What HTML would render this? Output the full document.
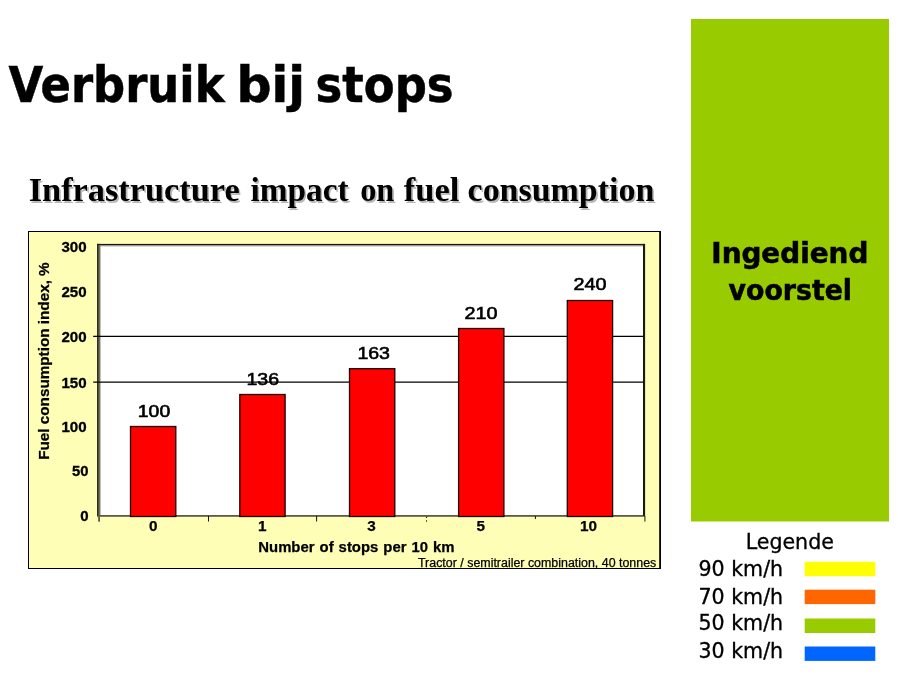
<!DOCTYPE html>
<html><head><meta charset="utf-8"><title>Verbruik bij stops</title>
<style>
html,body{margin:0;padding:0;background:#fff;}
body{width:898px;height:676px;overflow:hidden;position:relative;}
svg{position:absolute;left:0;top:0;display:block;}
.tah{font-family:"DejaVu Sans Condensed","DejaVu Sans","Liberation Sans",sans-serif;}
.ari{font-family:"Liberation Sans",sans-serif;}
.tim{font-family:"Liberation Serif",serif;}
</style></head><body>
<svg width="898" height="676" viewBox="0 0 898 676">
<rect width="898" height="676" fill="#ffffff"/>
<!-- title -->
<g class="tah" font-size="49" font-weight="bold" fill="#000" stroke="#000" stroke-width="0.5">
<text x="8.5" y="102" textLength="216" lengthAdjust="spacingAndGlyphs">Verbruik</text>
<text x="236.5" y="102" textLength="68.5" lengthAdjust="spacingAndGlyphs">bij</text>
<text x="315.6" y="102" textLength="138" lengthAdjust="spacingAndGlyphs">stops</text>
</g>
<!-- subtitle -->
<g class="tim" font-size="33.6" font-weight="bold" fill="#b8b8b8">
<text x="30.3" y="202.5" textLength="211" lengthAdjust="spacingAndGlyphs">Infrastructure</text>
<text x="252.1" y="202.5" textLength="98" lengthAdjust="spacingAndGlyphs">impact</text>
<text x="361.8" y="202.5" textLength="34" lengthAdjust="spacingAndGlyphs">on</text>
<text x="405.4" y="202.5" textLength="55.5" lengthAdjust="spacingAndGlyphs">fuel</text>
<text x="469.2" y="202.5" textLength="186.7" lengthAdjust="spacingAndGlyphs">consumption</text>
</g>
<g class="tim" font-size="33.6" font-weight="bold" fill="#000">
<text x="28.7" y="201.1" textLength="211" lengthAdjust="spacingAndGlyphs">Infrastructure</text>
<text x="250.5" y="201.1" textLength="98" lengthAdjust="spacingAndGlyphs">impact</text>
<text x="360.2" y="201.1" textLength="34" lengthAdjust="spacingAndGlyphs">on</text>
<text x="403.8" y="201.1" textLength="55.5" lengthAdjust="spacingAndGlyphs">fuel</text>
<text x="467.6" y="201.1" textLength="186.7" lengthAdjust="spacingAndGlyphs">consumption</text>
</g>
<!-- chart -->
<rect x="28" y="231" width="633" height="338" fill="#000"/>
<rect x="29" y="232" width="630.2" height="336" fill="#fffeb6"/>
<rect x="99" y="245" width="545" height="271" fill="#fff"/>
<!-- plot border -->
<rect x="97.1" y="243.9" width="1.3" height="272.6" fill="#1a1a10"/>
<rect x="98.4" y="243.9" width="1.3" height="277.8" fill="#1a1a10"/>
<rect x="99.7" y="245" width="0.9" height="270.5" fill="#999"/>
<rect x="97.1" y="243.9" width="547.9" height="1.2" fill="#1a1a10"/>
<rect x="99.7" y="245.1" width="543.3" height="1.2" fill="#8c8c8c"/>
<rect x="643" y="243.9" width="2.1" height="272.6" fill="#1a1a10"/>
<rect x="644.4" y="516" width="1" height="5.6" fill="#1a1a10"/>
<rect x="99.7" y="515" width="543.3" height="1.8" fill="#5c5c48"/>
<!-- gridlines -->
<line x1="93.2" y1="336.4" x2="644" y2="336.4" stroke="#000" stroke-width="1.15"/>
<line x1="93.2" y1="382.1" x2="644" y2="382.1" stroke="#000" stroke-width="1.25"/>
<!-- ticks -->
<g stroke="#111" stroke-width="1">
<line x1="208.5" y1="516" x2="208.5" y2="521.5"/>
<line x1="316.6" y1="516" x2="316.6" y2="521.5"/>
<line x1="426.6" y1="516.5" x2="426.6" y2="518" />
<line x1="426.6" y1="520.3" x2="426.6" y2="521.7" />
<line x1="535.4" y1="516" x2="535.4" y2="519"/>
</g>
<!-- bars -->
<g fill="#ff0000" stroke="#180000" stroke-width="1.3">
<rect x="130.5" y="426.5" width="45.3" height="90"/>
<rect x="239.8" y="394.5" width="45.3" height="122"/>
<rect x="349.5" y="368.7" width="45.3" height="147.8"/>
<rect x="458.6" y="328.5" width="45.3" height="188"/>
<rect x="567.3" y="300.5" width="45.3" height="216"/>
</g>
<!-- data labels -->
<g class="ari" font-size="16.7" fill="#000" stroke="#000" stroke-width="0.6" text-anchor="middle">
<text x="154" y="416.7" textLength="32.3" lengthAdjust="spacingAndGlyphs">100</text>
<text x="262.8" y="384.7" textLength="32.6" lengthAdjust="spacingAndGlyphs">136</text>
<text x="373.7" y="359" textLength="32.6" lengthAdjust="spacingAndGlyphs">163</text>
<text x="481" y="318.5" textLength="33" lengthAdjust="spacingAndGlyphs">210</text>
<text x="590" y="289.5" textLength="33" lengthAdjust="spacingAndGlyphs">240</text>
</g>
<!-- y labels -->
<g class="ari" font-size="15" font-weight="bold" fill="#000" stroke="#000" stroke-width="0.3" text-anchor="end">
<text x="86.6" y="251.6" textLength="25.2" lengthAdjust="spacingAndGlyphs">300</text>
<text x="86.6" y="296.5" textLength="25.2" lengthAdjust="spacingAndGlyphs">250</text>
<text x="86.6" y="341.6" textLength="25.2" lengthAdjust="spacingAndGlyphs">200</text>
<text x="86.6" y="387.6" textLength="25.2" lengthAdjust="spacingAndGlyphs">150</text>
<text x="86.6" y="431.5" textLength="25.2" lengthAdjust="spacingAndGlyphs">100</text>
<text x="88.5" y="476.2" textLength="16.5" lengthAdjust="spacingAndGlyphs">50</text>
<text x="88.5" y="520.6">0</text>
</g>
<!-- x labels -->
<g class="ari" font-size="15.3" font-weight="bold" fill="#000" stroke="#000" stroke-width="0.25" text-anchor="middle">
<text x="153.3" y="531.4">0</text>
<text x="262.3" y="531.4">1</text>
<text x="371.5" y="531.4">3</text>
<text x="480.8" y="531.4">5</text>
<text x="588.5" y="531.4">10</text>
</g>
<text class="ari" x="258.3" y="552" font-size="15" font-weight="bold" fill="#000" stroke="#000" stroke-width="0.25" word-spacing="0.9" textLength="196.3" lengthAdjust="spacingAndGlyphs">Number of stops per 10 km</text>
<text class="ari" x="418" y="566.8" font-size="12" fill="#000" stroke="#000" stroke-width="0.25" textLength="238.3" lengthAdjust="spacingAndGlyphs">Tractor / semitrailer combination, 40 tonnes</text>
<text class="ari" transform="translate(48.6 459.8) rotate(-90)" font-size="14.8" font-weight="bold" fill="#000" stroke="#000" stroke-width="0.25" textLength="197.5" lengthAdjust="spacingAndGlyphs">Fuel consumption index, %</text>
<!-- right panel -->
<rect x="691" y="19" width="198" height="502.5" fill="#99cc00"/>
<g class="tah" font-size="27.5" font-weight="bold" fill="#000" stroke="#000" stroke-width="0.5" text-anchor="middle">
<text x="789.8" y="263.3" textLength="157" lengthAdjust="spacingAndGlyphs">Ingediend</text>
<text x="790.3" y="299.6" textLength="123.5" lengthAdjust="spacingAndGlyphs">voorstel</text>
</g>
<!-- legend -->
<text class="tah" x="789.8" y="549.4" font-size="21.7" fill="#000" stroke="#000" stroke-width="0.3" text-anchor="middle" textLength="88.3" lengthAdjust="spacingAndGlyphs">Legende</text>
<g class="tah" font-size="21.5" fill="#000" stroke="#000" stroke-width="0.3">
<text x="698.5" y="576.4" textLength="84.6" lengthAdjust="spacingAndGlyphs">90 km/h</text>
<text x="698.5" y="603.5" textLength="84.6" lengthAdjust="spacingAndGlyphs">70 km/h</text>
<text x="698.5" y="630" textLength="84.6" lengthAdjust="spacingAndGlyphs">50 km/h</text>
<text x="698.5" y="657.5" textLength="84.6" lengthAdjust="spacingAndGlyphs">30 km/h</text>
</g>
<rect x="804.7" y="561.8" width="70.6" height="14.4" fill="#ffff00"/>
<rect x="804.7" y="589.7" width="70.6" height="14.4" fill="#ff6600"/>
<rect x="804.7" y="618.5" width="70.6" height="14.5" fill="#99cc00"/>
<rect x="804.7" y="646.5" width="70.6" height="14.4" fill="#0066ff"/>
</svg>
</body></html>
